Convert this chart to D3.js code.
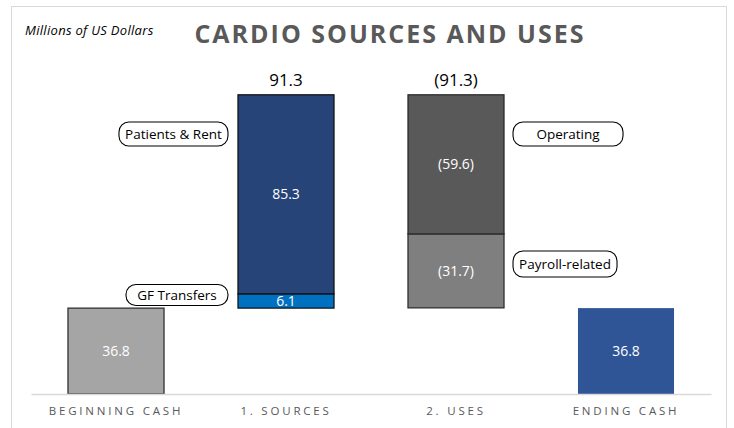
<!DOCTYPE html>
<html>
<head>
<meta charset="utf-8">
<script src="https://cdn.jsdelivr.net/npm/d3@7"></script>
<style>
  body { margin: 0; background: #fff; }
  svg { display: block; font-family: "Open Sans", "Noto Sans", sans-serif; }
</style>
</head>
<body>
<svg width="734" height="428"></svg>
<script>
// chart values
var categories = ["BEGINNING CASH", "1. SOURCES", "2. USES", "ENDING CASH"];
var beginningCash = 36.8;
var endingCash = 36.8;
var sourceNames = ["GF Transfers", "Patients & Rent"];
var sourceValues = [6.1, 85.3];
var useNames = ["Payroll-related", "Operating"];
var useValues = [-31.7, -59.6];
var totals = [91.3, -91.3];

var fmt = function(v) {
  var s = d3.format(".1f")(Math.abs(v));
  return v < 0 ? "(" + s + ")" : s;
};

// build the floating segments of the waterfall
var segs = [];
segs.push({cat: categories[0], y0: 0, y1: beginningCash, v: beginningCash, fill: "#a5a5a5", stroke: "#262626"});
var run = beginningCash;
var srcFill = ["#0070c0", "#264478"];
sourceValues.forEach(function(v, i) {
  segs.push({cat: categories[1], name: sourceNames[i], y0: run, y1: run + v, v: v, fill: srcFill[i], stroke: "#0d0d0d"});
  run += v;
});
var useTop = run;
var useFill = ["#7f7f7f", "#595959"];
// uses stack from the bottom (payroll) up to the top (operating)
var base = useTop + d3.sum(useValues);
useValues.forEach(function(v, i) {
  segs.push({cat: categories[2], name: useNames[i], y0: base, y1: base - v, v: v, fill: useFill[i], stroke: "#262626"});
  base -= v;
});
segs.push({cat: categories[3], y0: 0, y1: endingCash, v: endingCash, fill: "#2f5597", stroke: "none"});

var svg = d3.select("svg"),
    width = +svg.attr("width"),
    height = +svg.attr("height");

// outer frame
svg.append("rect")
  .attr("x", 11.5).attr("y", 6.5)
  .attr("width", 715).attr("height", 440)
  .attr("fill", "none").attr("stroke", "#d9d9d9");

var x = d3.scaleBand().domain(categories).range([31, 711]).paddingInner(0.435).paddingOuter(0.2175);
var y = d3.scaleLinear().domain([0, 130]).range([394, 394 - 130 * 2.334]);

svg.append("g").selectAll("rect")
  .data(segs)
  .enter().append("rect")
    .attr("x", d => x(d.cat))
    .attr("width", x.bandwidth())
    .attr("y", d => y(Math.max(d.y0, d.y1)))
    .attr("height", d => Math.abs(y(d.y0) - y(d.y1)))
    .attr("fill", d => d.fill)
    .attr("stroke", d => d.stroke)
    .attr("stroke-width", 1.2);

svg.append("g").selectAll("text")
  .data(segs)
  .enter().append("text")
    .attr("x", d => x(d.cat) + x.bandwidth() / 2)
    .attr("y", d => y((d.y0 + d.y1) / 2))
    .attr("dy", "0.36em")
    .attr("text-anchor", "middle")
    .attr("fill", "#fff")
    .attr("font-size", 14)
    .text(d => fmt(d.v));

// totals above the stacked bars
svg.append("g").selectAll("text")
  .data(totals)
  .enter().append("text")
    .attr("x", (d, i) => x(categories[i + 1]) + x.bandwidth() / 2)
    .attr("y", y(useTop) - 9)
    .attr("text-anchor", "middle")
    .attr("fill", "#000")
    .attr("font-size", 17)
    .text(d => fmt(d));

// axis
var axis = svg.append("g").attr("transform", "translate(0," + y(0) + ")")
  .call(d3.axisBottom(x).tickSize(0).tickPadding(13));
axis.select(".domain").attr("stroke", "#d9d9d9").attr("stroke-width", 1.3);
axis.selectAll("text")
  .attr("font-family", "'Open Sans', sans-serif")
  .attr("font-size", 11.5)
  .attr("letter-spacing", "2.8px")
  .attr("fill", "#595959");

// pill call-outs next to the stacked bars
var callouts = [
  {name: "Patients & Rent", cat: categories[1], side: "left", at: 111.4, w: 109, h: 24},
  {name: "GF Transfers", cat: categories[1], side: "left", at: 42.4, w: 102, h: 21},
  {name: "Operating", cat: categories[2], side: "right", at: 111.4, w: 110, h: 24},
  {name: "Payroll-related", cat: categories[2], side: "right", at: 55.7, w: 104, h: 26}
];
var cg = svg.append("g").selectAll("g")
  .data(callouts)
  .enter().append("g")
    .attr("transform", function(d) {
      var cx = d.side === "left" ? x(d.cat) - 10 - d.w / 2 : x(d.cat) + x.bandwidth() + 9 + d.w / 2;
      return "translate(" + cx + "," + y(d.at) + ")";
    });
cg.append("rect")
  .attr("x", d => -d.w / 2).attr("y", d => -d.h / 2)
  .attr("width", d => d.w).attr("height", d => d.h)
  .attr("rx", 10).attr("ry", 10)
  .attr("fill", "#fff").attr("stroke", "#000").attr("stroke-width", 1.1);
cg.append("text")
  .attr("text-anchor", "middle").attr("dy", "0.36em")
  .attr("font-size", 13.5).attr("fill", "#000")
  .text(d => d.name);

// titles
svg.append("text")
  .attr("x", 25).attr("y", 35)
  .attr("font-size", 13).attr("font-style", "italic")
  .attr("letter-spacing", "0.3px")
  .attr("fill", "#000")
  .text("Millions of US Dollars");
svg.append("text")
  .attr("x", 390).attr("y", 43)
  .attr("text-anchor", "middle")
  .attr("font-size", 25).attr("font-weight", "bold")
  .attr("letter-spacing", "2px")
  .attr("fill", "#595959")
  .text("CARDIO SOURCES AND USES");
</script>
</body>
</html>
